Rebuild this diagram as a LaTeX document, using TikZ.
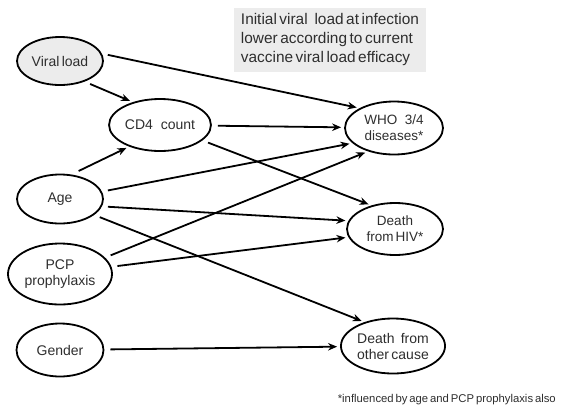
\documentclass[tikz,border=0pt]{standalone}
\usepackage{fontspec}
\setmainfont{Liberation Sans}
\usetikzlibrary{shapes.geometric,arrows.meta}
\definecolor{boxgray}{HTML}{ECECEC}
\definecolor{inkgray}{HTML}{2E2E2E}
\tikzset{
  var/.style={ellipse,draw,line width=1.8pt,inner sep=1pt,align=center,
    minimum width=86pt,minimum height=48pt,text=inkgray,font=\fontsize{14}{16}\selectfont},
  link/.style={line width=1.8pt,shorten <=6pt,shorten >=3pt}
}
\begin{document}
\begin{tikzpicture}[x=1pt,y=1pt,->,>={Stealth[length=9pt,width=7.5pt]},node distance=75pt]
  \useasboundingbox[fill=white] (0,0) rectangle (561,-410);
  % exposures
  \node[var,fill=boxgray] (vl) at (60,-61) {Viral\,load};
  \node[var,minimum width=96pt,minimum height=52pt] (cd4) [right of=vl,xshift=25pt,yshift=-64pt] {CD4\ \ count};
  \node[var,minimum height=49pt] (age) [below of=vl,yshift=-63pt] {Age};
  \node[var,minimum width=104pt,minimum height=61pt] (pcp) [below of=age] {PCP\\prophylaxis};
  \node[var,minimum width=87pt,minimum height=53pt] (gender) [below of=pcp,yshift=-1pt] {Gender};
  % outcomes
  \node[var,minimum width=98pt,minimum height=53pt,font=\fontsize{13.5}{16}\selectfont] (who) [right of=cd4,xshift=159pt,yshift=-3pt] {WHO\ \ 3/4\\diseases*};
  \node[var,minimum width=96pt,minimum height=52pt,font=\fontsize{13.5}{16}\selectfont] (hiv) [below of=who,xshift=1pt,yshift=-26pt] {Death\\from\,HIV*};
  \node[var,minimum width=101pt,minimum height=55pt] (other) [below of=hiv,xshift=-2pt,yshift=-42pt] {Death\ \,from\\other\,cause};
  % notes
  \node[fill=boxgray,inner xsep=7pt,inner ysep=6pt,align=left,text=inkgray,
    font=\fontsize{15.4}{19}\selectfont] (note) at (330,-40) {Initial\,viral\ \,load\,at\,infection\\lower\,according\,to\,current\\vaccine\,viral\,load\,efficacy};
  \node[anchor=east,inner sep=0pt,text=inkgray,font=\fontsize{11.3}{13}\selectfont] (foot) at (556,-400) {*influenced\,by\,age\,and\,PCP\,prophylaxis\,also};
  % arrows
  \draw[link] (vl.10) -- (who.150);
  \draw[link] (vl.-40) -- (cd4.140);
  \draw[link,shorten <=8pt] (age.65) -- (cd4.215);
  \draw[link] (cd4) -- (who);
  \draw[link] (cd4.-20) -- (hiv.135);
  \draw[link] (age.10) -- (who.200);
  \draw[link] (age.-10) -- (hiv.170);
  \draw[link] (age.-25) -- (other.140);
  \draw[link] (pcp.20) -- (who.222);
  \draw[link] (pcp.8) -- (hiv.190);
  \draw[link] (gender) -- (other);
\end{tikzpicture}
\end{document}
